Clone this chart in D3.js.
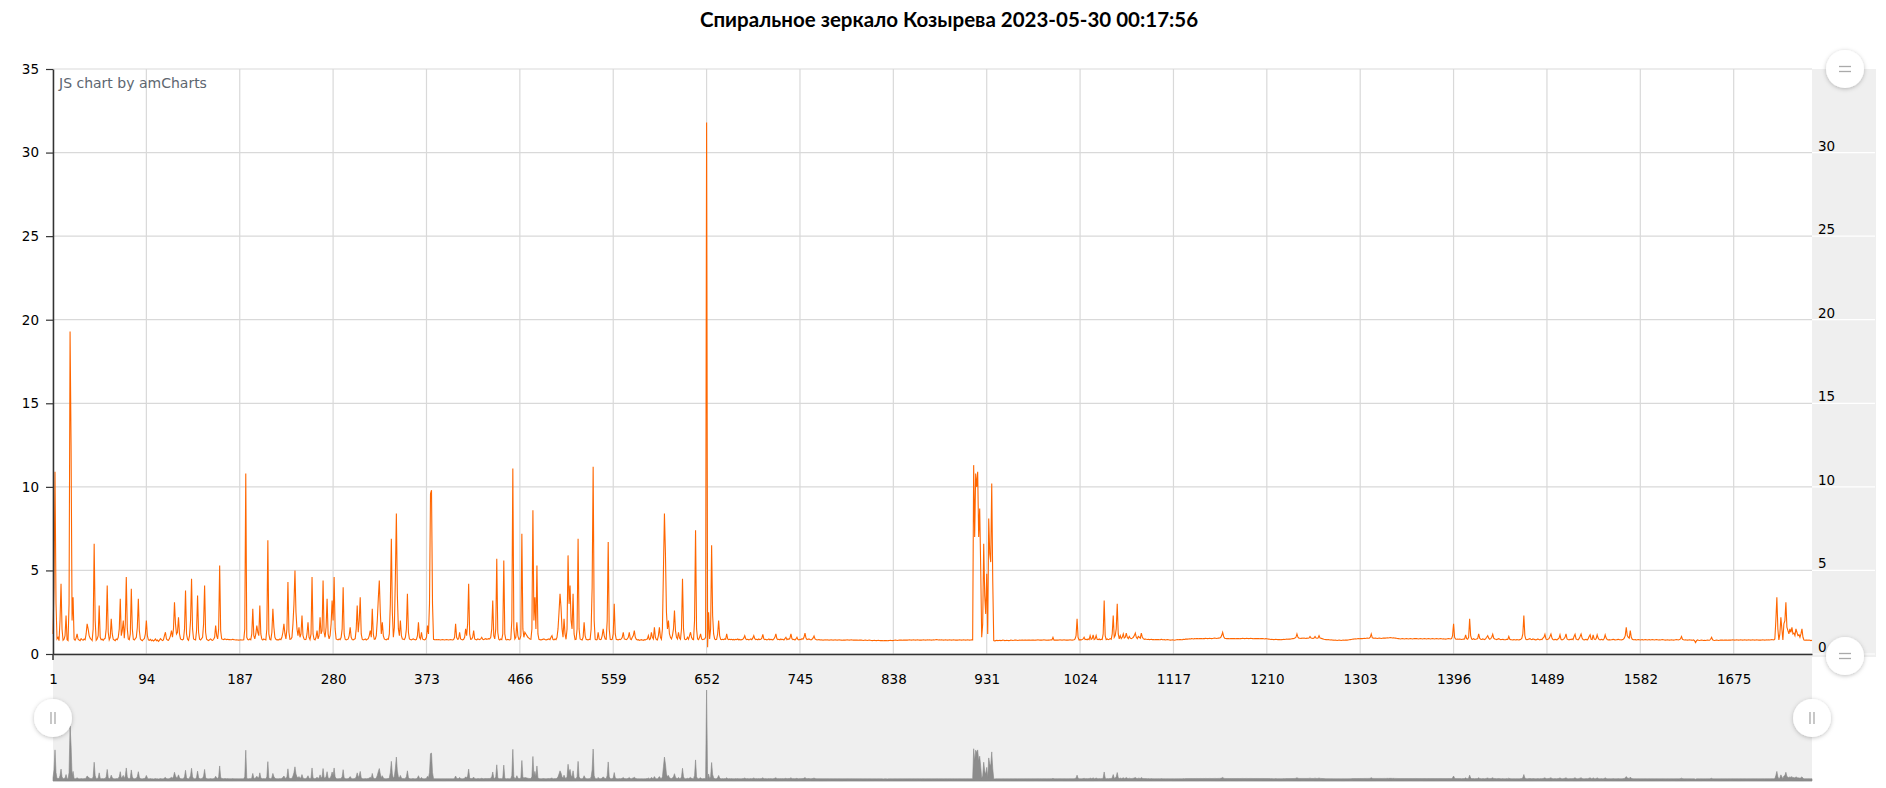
<!DOCTYPE html>
<meta charset="utf-8">
<script src="https://d3js.org/d3.v7.min.js"></script>
<head>
    <title>Спиральное зеркало Козырева</title>
    <style>
        body { margin: 0; background: #fff; }
        text { font-family: "DejaVu Sans", Verdana, sans-serif; }
    </style>
</head>
<body>
    <div id="chart"></div>
</body>
<script>
    const chartTitle = "Спиральное зеркало Козырева 2023-05-30 00:17:56";
    const creditText = "JS chart by amCharts";
    const yTicks = [0, 5, 10, 15, 20, 25, 30, 35];
    const rightTicks = [0, 5, 10, 15, 20, 25, 30];
    const xTickLabels = [1, 94, 187, 280, 373, 466, 559, 652, 745, 838, 931, 1024, 1117, 1210, 1303, 1396, 1489, 1582, 1675];

    // readings, in hundredths, one per category (categories are 1..N)
    const readingsX100 = [
        120,400,1090,300,90,100,80,200,420,150,82,88,110,230,85,80,300,1930,1250,200,340,90,82,95,120, // 1
        88,84,80,92,86,82,90,85,120,180,150,110,95,88,80,150,660,200,82,90,110,290,100,85,88,
        82,90,95,150,410,130,85,100,210,120,88,84,80,90,86,100,150,330,110,140,200,95,180,460,150,
        90,85,120,390,150,88,84,92,100,160,330,140,90,84,80,88,92,120,200,110,85,82,88,80,84,
        78,82,90,80,84,76,82,92,86,80,84,110,130,90,84,82,92,110,140,100,150,310,180,120,130, // 101
        220,120,90,86,84,90,150,380,120,88,82,110,200,450,150,90,86,84,140,350,130,88,84,92,100,
        180,410,130,88,84,80,86,90,84,82,88,100,170,110,90,150,530,140,90,88,86,90,88,86,88,
        86,87,85,86,88,86,85,84,85,84,83,84,85,84,84,85,150,1080,100,86,84,90,85,120,270,
        110,90,120,170,130,110,290,120,88,84,90,86,84,150,680,120,88,85,130,270,160,100,88,84,86, // 201
        84,90,86,100,130,180,120,90,150,430,130,88,90,100,180,300,500,250,150,110,160,100,120,230,110,
        90,86,88,120,190,100,86,120,460,120,88,84,100,140,90,110,220,120,140,440,130,100,160,330,120,
        90,110,180,320,200,460,150,90,86,84,90,86,100,150,400,120,88,84,86,90,110,160,100,86,84,
        88,92,150,290,130,200,340,120,88,84,86,90,84,88,92,110,140,100,270,120,88,90,110,200,330, // 301
        440,250,120,190,110,90,86,84,90,88,120,300,690,250,100,160,450,840,350,150,110,200,110,90,88,
        86,100,150,360,130,90,86,84,88,90,86,84,88,110,190,100,90,130,90,86,84,88,100,170,120,
        300,960,980,300,88,86,85,86,85,86,85,84,85,86,85,84,85,86,85,84,85,86,85,84,86,
        100,180,100,88,90,130,90,86,84,88,100,150,110,180,420,120,88,90,100,140,90,86,84,90,88, // 401
        86,90,100,88,86,90,92,88,90,92,90,100,150,320,110,90,150,570,130,88,84,90,86,120,560,
        120,86,84,88,85,84,90,200,1110,150,90,100,190,110,88,90,110,720,150,100,130,120,110,100,95,
        90,88,150,860,200,340,150,530,120,88,86,84,86,88,90,86,84,86,88,90,86,100,110,86,84,
        90,86,100,150,250,360,280,150,100,210,120,88,150,590,300,410,200,150,360,120,86,88,150,690,150, // 501
        90,86,84,100,190,110,88,86,84,88,86,150,400,1120,200,88,84,86,130,90,86,88,110,150,110,
        90,88,200,670,150,88,86,88,120,300,120,88,86,84,88,86,90,100,130,90,88,86,90,100,130,
        90,86,100,110,140,100,88,84,86,82,84,86,84,82,86,84,88,90,110,86,90,130,100,90,160,
        100,86,84,110,160,100,88,150,500,840,600,250,150,200,120,100,90,110,150,260,140,100,90,130,95, // 601
        88,150,450,150,90,86,88,100,88,110,130,100,88,86,200,740,150,90,86,100,120,90,86,88,90,
        100,3180,40,250,90,150,650,230,120,90,86,88,120,200,110,88,86,88,86,90,88,120,90,86,88,
        86,88,85,87,84,88,86,90,85,87,84,86,88,95,110,90,86,88,85,87,90,86,95,110,92,
        86,88,85,90,86,88,95,118,90,86,88,84,86,90,85,88,86,84,90,100,120,92,86,88,85, // 701
        90,86,88,84,92,100,86,90,88,95,120,92,86,88,84,90,100,86,84,88,86,92,88,100,125,
        95,86,88,90,86,84,88,95,108,90,86,84,85,86,84,85,84,83,84,85,84,85,84,83,84,
        85,84,83,84,85,84,83,84,85,84,83,82,83,84,83,84,85,84,83,84,85,84,83,84,83,
        84,83,82,83,84,83,82,81,82,83,82,81,82,83,82,81,80,81,82,81,80,81,82,81,80, // 801
        81,80,79,80,81,80,79,80,81,82,81,80,81,82,83,82,81,82,83,84,83,82,83,84,83,
        84,83,84,85,84,83,84,85,84,83,84,85,84,83,84,83,84,85,84,83,84,85,84,85,84,
        83,84,85,84,85,86,85,84,85,84,85,84,83,84,85,84,83,84,85,84,83,84,85,84,83,
        84,83,84,85,84,83,84,85,84,83,84,85,84,83,84,85,84,1130,700,1080,1000,1090,700,870,520, // 901
        100,180,660,350,240,480,120,810,600,550,1020,440,80,78,80,82,80,81,82,80,81,83,82,80,81,
        82,81,80,81,83,82,81,82,84,83,82,81,82,83,82,84,83,82,83,84,82,83,84,83,82,
        83,84,83,82,83,84,85,84,83,84,83,84,85,84,83,82,84,83,84,85,84,100,83,84,83,
        84,83,84,85,84,83,84,85,84,83,84,83,84,85,84,83,84,85,90,110,210,100,84,86,84, // 1001
        86,90,100,86,88,85,90,86,110,88,92,115,86,90,110,88,86,90,85,88,86,120,320,110,86,
        90,86,88,92,88,120,230,100,110,150,300,120,90,110,92,100,120,95,100,125,100,92,105,95,92,
        95,100,110,125,100,92,105,100,95,125,100,92,88,90,88,87,88,86,87,88,86,87,85,86,87,
        86,87,85,86,88,86,85,86,84,85,86,85,84,83,84,85,84,82,84,85,86,85,87,86,85, // 1101
        86,88,87,89,90,89,90,91,90,92,91,90,92,91,93,92,91,92,93,92,91,93,92,94,93,
        92,93,94,93,92,93,94,95,94,93,94,95,96,98,110,130,105,94,93,92,93,92,91,92,93,
        92,93,92,91,92,93,92,91,92,93,94,93,92,93,94,93,92,93,94,93,92,91,92,93,92,
        93,92,91,92,93,92,91,90,92,91,90,89,88,87,88,87,86,87,88,87,86,87,86,85,86, // 1201
        87,88,87,88,89,88,90,89,90,91,92,93,95,100,120,100,95,94,93,95,94,95,94,93,95,
        94,96,105,95,94,93,96,105,95,94,96,110,96,94,92,90,88,87,86,85,86,85,84,85,84,
        83,82,83,82,81,82,83,82,81,82,83,82,83,84,83,84,85,86,87,88,89,90,91,90,91,
        92,91,92,93,92,93,94,93,94,95,94,95,100,120,98,95,94,95,94,93,94,95,94,93,94, // 1301
        95,96,95,96,97,96,97,98,97,96,97,96,95,94,93,92,91,90,91,92,91,90,91,92,91,
        90,91,92,91,90,91,92,93,92,91,90,91,92,91,90,91,92,91,90,91,92,91,90,91,92,
        91,90,91,92,91,90,91,92,91,90,91,90,89,90,91,92,91,90,92,110,180,100,90,88,89,
        88,89,88,87,88,89,90,115,92,88,100,210,110,90,88,92,87,88,90,92,120,95,88,87,90, // 1401
        88,86,92,100,110,95,88,92,100,118,95,90,88,86,90,92,88,86,87,88,86,85,86,88,87,
        105,88,86,85,84,86,85,84,86,85,84,86,88,95,120,230,110,88,86,87,90,92,88,86,90,
        88,86,84,87,90,86,84,88,86,95,100,118,90,86,88,92,105,120,95,86,84,88,86,84,90,
        95,115,88,84,86,92,100,120,90,86,84,88,86,90,86,105,118,90,86,84,92,105,120,95,86, // 1501
        84,86,88,84,90,105,115,88,86,115,90,86,92,115,95,86,84,88,86,84,92,115,95,86,84,
        86,84,85,86,88,86,84,85,86,88,86,85,84,86,88,95,110,160,110,100,95,140,100,88,86,
        85,86,84,85,86,85,84,85,86,84,85,86,85,84,85,86,84,85,86,85,84,85,86,85,84,
        85,84,85,86,85,84,83,84,85,84,83,84,85,84,83,84,85,86,85,84,86,90,105,88,85, // 1601
        84,85,84,83,84,85,84,83,82,84,80,68,80,84,82,81,82,83,82,81,82,81,82,83,82,
        82,88,100,85,82,81,82,83,82,81,82,83,84,83,82,83,84,83,82,83,84,83,84,85,84,
        83,84,85,84,83,84,85,84,83,84,85,84,83,84,85,84,83,84,85,84,83,84,85,84,83,
        84,83,84,85,84,83,84,85,84,85,84,85,86,85,84,90,200,340,150,84,120,220,150,84,180, // 1701
        200,310,160,140,120,150,130,160,120,125,110,150,130,110,115,100,120,150,100,84,82,84,83,82,84,
        82,80,82
    ];

    const values = readingsX100.map(v => v / 100);
    const data = values.map((v, i) => ({ cat: i + 1, value: v }));

    const W = 1886, H = 788;
    const plot = { left: 53, right: 1812, top: 69, bottom: 654 };

    const svg = d3.select("#chart")
        .append("svg")
        .attr("width", W)
        .attr("height", H);

    // soft shadow for the scrollbar grips
    const defs = svg.append("defs");
    defs.append("filter")
        .attr("id", "gripShadow")
        .attr("x", "-50%").attr("y", "-50%")
        .attr("width", "200%").attr("height", "200%")
        .append("feDropShadow")
        .attr("dx", 0).attr("dy", 1)
        .attr("stdDeviation", 2)
        .attr("flood-color", "#000")
        .attr("flood-opacity", 0.25);

    const x = d3.scaleLinear()
        .domain([1, data.length])
        .range([plot.left, plot.right]);

    const y = d3.scaleLinear()
        .domain([0, 35])
        .range([plot.bottom, plot.top]);

    // title
    svg.append("text")
        .attr("x", 949)
        .attr("y", 27)
        .attr("text-anchor", "middle")
        .style("font-family", "Lato, 'Open Sans', sans-serif")
        .style("font-weight", "bold")
        .style("font-size", "20.5px")
        .style("fill", "#000")
        .text(chartTitle);

    // grid
    svg.append("g")
        .selectAll("line")
        .data(yTicks)
        .join("line")
            .attr("x1", plot.left).attr("x2", plot.right)
            .attr("y1", d => y(d)).attr("y2", d => y(d))
            .attr("stroke", "#d9d9d9")
            .attr("stroke-width", 1.2);

    svg.append("g")
        .selectAll("line")
        .data(xTickLabels)
        .join("line")
            .attr("x1", d => x(d)).attr("x2", d => x(d))
            .attr("y1", plot.top).attr("y2", plot.bottom)
            .attr("stroke", "#d9d9d9")
            .attr("stroke-width", 1.2);

    // chart scrollbar background (under the category labels)
    svg.append("rect")
        .attr("x", plot.left)
        .attr("y", plot.bottom + 1)
        .attr("width", plot.right - plot.left)
        .attr("height", 127)
        .attr("fill", "#efefef");

    // value scrollbar on the right
    svg.append("rect")
        .attr("x", plot.right)
        .attr("y", plot.top)
        .attr("width", 64)
        .attr("height", plot.bottom - plot.top + 3)
        .attr("fill", "#efefef");

    svg.append("g")
        .selectAll("line")
        .data(rightTicks)
        .join("line")
            .attr("x1", plot.right).attr("x2", plot.right + 63)
            .attr("y1", d => y(d)).attr("y2", d => y(d))
            .attr("stroke", "#fff")
            .attr("stroke-width", 1.2);

    svg.append("g")
        .selectAll("text")
        .data(rightTicks)
        .join("text")
            .attr("x", plot.right + 6)
            .attr("y", d => y(d) - 2)
            .style("font-size", "13.5px")
            .style("fill", "#000")
            .text(d => d);

    // scrollbar mini graph
    const ys = d3.scaleLinear()
        .domain([d3.min(values), d3.max(values)])
        .range([780, 690]);

    svg.append("path")
        .datum(data)
        .attr("d", d3.area()
            .x(d => x(d.cat))
            .y0(781)
            .y1(d => ys(d.value)))
        .attr("fill", "#8c8c8c")
        .attr("stroke", "#888")
        .attr("stroke-width", 0.6);

    // main line
    svg.append("path")
        .datum(data)
        .attr("d", d3.line()
            .x(d => x(d.cat))
            .y(d => y(d.value)))
        .attr("fill", "none")
        .attr("stroke", "#FF6600")
        .attr("stroke-width", 1.1);

    // axes
    const yAxis = svg.append("g")
        .attr("transform", `translate(${plot.left},0)`)
        .call(d3.axisLeft(y).tickValues(yTicks).tickSize(7).tickSizeOuter(0).tickPadding(7));
    yAxis.select(".domain").attr("stroke", "#333").attr("stroke-width", 1.5);
    yAxis.selectAll(".tick line").attr("stroke", "#333").attr("stroke-width", 1.2);
    yAxis.selectAll("text")
        .style("font-family", "'DejaVu Sans', sans-serif")
        .style("font-size", "13.5px")
        .attr("fill", "#000");

    const xAxis = svg.append("g")
        .attr("transform", `translate(0,${plot.bottom})`)
        .call(d3.axisBottom(x).tickValues(xTickLabels).tickSize(0).tickSizeOuter(0).tickPadding(20.5).tickFormat(d => d));
    xAxis.select(".domain").attr("stroke", "#333").attr("stroke-width", 1.5);
    xAxis.selectAll("text")
        .style("font-family", "'DejaVu Sans', sans-serif")
        .style("font-size", "13.5px")
        .attr("fill", "#000");

    svg.append("line")
        .attr("x1", plot.left).attr("x2", plot.left)
        .attr("y1", plot.bottom).attr("y2", plot.bottom + 6)
        .attr("stroke", "#333")
        .attr("stroke-width", 1.5);

    // credit
    svg.append("text")
        .attr("x", plot.left + 6)
        .attr("y", 88)
        .style("font-size", "14px")
        .style("fill", "#5d6670")
        .text(creditText);

    // grips
    const grip = (cx, cy, horizontalBars) => {
        const g = svg.append("g").attr("transform", `translate(${cx},${cy})`);
        g.append("circle")
            .attr("r", 19)
            .attr("fill", "#fff")
            .attr("filter", "url(#gripShadow)");
        const bars = horizontalBars
            ? [[-6, -2.5, 6, -2.5], [-6, 2.5, 6, 2.5]]
            : [[-2, -6, -2, 6], [2, -6, 2, 6]];
        g.selectAll("line")
            .data(bars)
            .join("line")
                .attr("x1", d => d[0]).attr("y1", d => d[1])
                .attr("x2", d => d[2]).attr("y2", d => d[3])
                .attr("stroke", "#aaa")
                .attr("stroke-width", 1.3);
    };
    grip(1845, plot.top, true);
    grip(1845, plot.bottom + 2, true);
    grip(plot.left, 718, false);
    grip(plot.right, 718, false);
</script>
